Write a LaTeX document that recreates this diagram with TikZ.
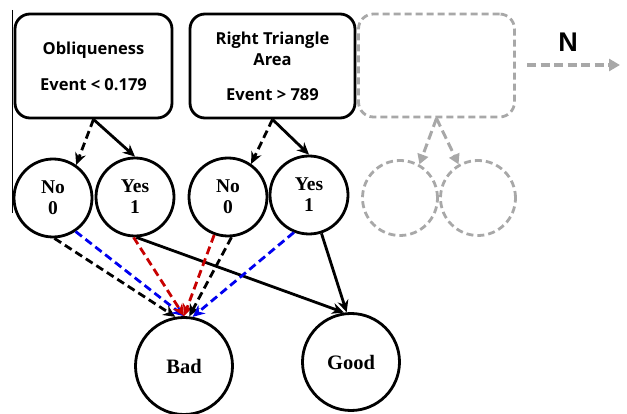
\documentclass[tikz,border=0pt]{standalone}
\usepackage{fontspec}
\setmainfont{Liberation Serif}
\newfontfamily\boxfont{Open Sans}
\newfontfamily\arialfont{Liberation Sans}
\usetikzlibrary{arrows.meta}
\definecolor{lgray}{RGB}{168,168,168}
\definecolor{dred}{RGB}{200,0,0}
\definecolor{dblue}{RGB}{0,0,240}
\tikzset{
  x=1pt, y=-1pt,
  ebox/.style={draw, line width=2.8pt, rounded corners=15pt, minimum width=157pt, minimum height=104pt, align=center, font=\boxfont\bfseries\fontsize{16.5}{21}\selectfont, inner sep=0pt},
  gbox/.style={draw=lgray, dash pattern=on 7pt off 4pt, line width=2.8pt, rounded corners=15pt, minimum width=156pt, minimum height=103pt},
  vcirc/.style={draw, circle, line width=2.8pt, minimum size=78pt, inner sep=0pt, align=center, font=\bfseries\fontsize{19.5}{21}\selectfont},
  gcirc/.style={draw=lgray, circle, dash pattern=on 7pt off 4pt, line width=2.8pt, minimum size=75pt},
  ocirc/.style={draw, circle, line width=2.8pt, minimum size=97pt, inner sep=0pt, font=\bfseries\fontsize{20.5}{22}\selectfont},
  arr/.style={line width=2.8pt, -{Stealth[length=12pt,width=11pt]}},
  darr/.style={arr, dash pattern=on 8pt off 4.5pt},
  garr/.style={line width=3.2pt, draw=lgray, dash pattern=on 9pt off 4.5pt, -{Triangle[length=11pt,width=12pt,fill=lgray]}, color=lgray},
}
\begin{document}
\begin{tikzpicture}
\useasboundingbox (0,0) rectangle (627,414);
\draw[line width=1pt] (12,10) -- (12,213);
\node[ebox] (b1) at (93.5,66) {Obliqueness\\[15pt]Event {<} 0.179};
\node[ebox, minimum width=165pt] (b2) at (272.5,66) {Right Triangle\\Area\\[14pt]Event {>} 789};
\node[gbox] (b3) at (436.5,65.5) {};
\node[font=\arialfont\bfseries\fontsize{27}{29}\selectfont] (nlab) at (568,42) {N};
\coordinate (nstart) at (527,65);
\coordinate (nend) at (620,65);
\draw[garr] (nstart) -- (nend);

\node[vcirc] (c1) at (53,198) {No\\0};
\node[vcirc] (c2) at (135,197) {Yes\\1};
\node[vcirc] (c3) at (228,197) {No\\0};
\node[vcirc] (c4) at (309,195) {Yes\\1};
\node[gcirc] (g1) at (400,198) {};
\node[gcirc] (g2) at (478,198) {};

\node[ocirc] (bad) at (184,366) {Bad};
\node[ocirc] (good) at (351,362) {Good};

\draw[darr] (b1.south) -- (c1.55);
\draw[arr] (b1.south) -- (c2.north);
\draw[darr] (b2.south) -- (c3.55);
\draw[arr] (b2.south) -- (c4.north);
\draw[garr, line width=3pt, -{Triangle[length=10pt,width=11pt]}] (b3.south) -- (g1.60);
\draw[garr, line width=3pt, -{Triangle[length=10pt,width=11pt]}] (b3.south) -- (g2.120);

\draw[darr] (c1.-88) -- (bad.100);
\draw[darr, dblue] (c1.-56) -- (bad.north);
\draw[darr, dred] (c2.-92) -- (bad.north);
\draw[arr] (c2.-88) -- (good.98);
\draw[darr, dred] (c3.-110) -- (bad.north);
\draw[darr] (c3.-85) -- (bad.84);
\draw[darr, dblue] (c4.-112) -- (bad.80);
\draw[arr] (c4.-72) -- (good.95);
\end{tikzpicture}
\end{document}
